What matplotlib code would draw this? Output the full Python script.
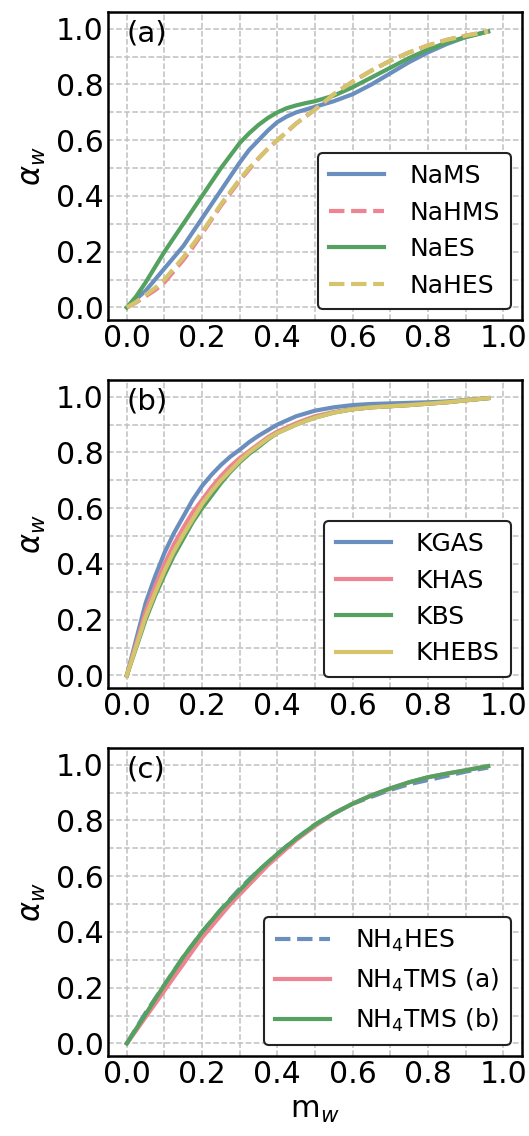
import numpy as np
import matplotlib as mpl
import matplotlib.pyplot as plt
from matplotlib.ticker import MultipleLocator

# water mass fraction (shared x values)
m_w = [0.0, 0.025, 0.05, 0.075, 0.1, 0.125, 0.15, 0.175, 0.2, 0.225, 0.25,
       0.275, 0.3, 0.325, 0.35, 0.375, 0.4, 0.425, 0.45, 0.475, 0.5,
       0.55, 0.6, 0.65, 0.7, 0.75, 0.8, 0.85, 0.9, 0.96]

# panel (a)
naMS = [0, 0.03, 0.06, 0.10, 0.14, 0.18, 0.22, 0.27, 0.32, 0.37, 0.42,
        0.47, 0.52, 0.565, 0.60, 0.635, 0.665, 0.685, 0.70, 0.71, 0.72,
        0.74, 0.765, 0.80, 0.84, 0.88, 0.915, 0.945, 0.97, 0.99]
naHMS = [0, 0.018, 0.04, 0.062, 0.09, 0.13, 0.17, 0.215, 0.265, 0.315, 0.365,
         0.41, 0.455, 0.495, 0.535, 0.57, 0.60, 0.63, 0.66, 0.685, 0.71,
         0.765, 0.81, 0.85, 0.885, 0.915, 0.94, 0.96, 0.975, 0.99]
naES = [0, 0.04, 0.09, 0.145, 0.20, 0.25, 0.30, 0.35, 0.40, 0.45, 0.50,
        0.545, 0.59, 0.625, 0.655, 0.68, 0.70, 0.715, 0.725, 0.733, 0.74,
        0.76, 0.79, 0.825, 0.86, 0.895, 0.925, 0.95, 0.97, 0.99]
naHES = [0, 0.02, 0.045, 0.07, 0.10, 0.14, 0.18, 0.225, 0.27, 0.32, 0.37,
         0.415, 0.46, 0.50, 0.535, 0.57, 0.60, 0.63, 0.66, 0.685, 0.71,
         0.765, 0.81, 0.85, 0.885, 0.915, 0.94, 0.96, 0.975, 0.99]

# panel (b)
kGAS = [0, 0.13, 0.26, 0.355, 0.44, 0.51, 0.57, 0.63, 0.68, 0.72, 0.755,
        0.785, 0.81, 0.837, 0.86, 0.88, 0.90, 0.915, 0.93, 0.94, 0.95,
        0.962, 0.97, 0.974, 0.976, 0.978, 0.98, 0.983, 0.988, 0.995]
kHAS = [0, 0.115, 0.23, 0.32, 0.40, 0.47, 0.53, 0.585, 0.63, 0.675, 0.715,
        0.75, 0.78, 0.805, 0.83, 0.855, 0.875, 0.89, 0.905, 0.918, 0.93,
        0.945, 0.955, 0.962, 0.966, 0.97, 0.975, 0.98, 0.987, 0.995]
kBS = [0, 0.10, 0.20, 0.285, 0.36, 0.43, 0.49, 0.55, 0.60, 0.645, 0.69,
       0.73, 0.765, 0.795, 0.82, 0.847, 0.87, 0.885, 0.90, 0.913, 0.925,
       0.943, 0.955, 0.962, 0.966, 0.97, 0.975, 0.98, 0.987, 0.995]
kHEBS = [0, 0.105, 0.21, 0.295, 0.375, 0.445, 0.505, 0.56, 0.615, 0.66, 0.70,
         0.735, 0.77, 0.80, 0.825, 0.85, 0.87, 0.885, 0.90, 0.913, 0.925,
         0.943, 0.955, 0.962, 0.966, 0.97, 0.975, 0.98, 0.987, 0.995]

# panel (c)
nh4HES = [0, 0.055, 0.11, 0.16, 0.21, 0.26, 0.31, 0.355, 0.40, 0.44, 0.48,
          0.518, 0.555, 0.588, 0.62, 0.65, 0.68, 0.708, 0.735, 0.76, 0.785,
          0.825, 0.86, 0.885, 0.91, 0.93, 0.945, 0.96, 0.975, 0.99]
nh4TMS_a = [0, 0.047, 0.095, 0.142, 0.19, 0.238, 0.285, 0.333, 0.38, 0.42, 0.46,
            0.50, 0.535, 0.57, 0.605, 0.64, 0.67, 0.70, 0.73, 0.755, 0.78,
            0.825, 0.86, 0.89, 0.915, 0.937, 0.955, 0.968, 0.98, 0.995]
nh4TMS_b = [0, 0.053, 0.105, 0.158, 0.21, 0.26, 0.31, 0.355, 0.40, 0.44, 0.48,
            0.515, 0.55, 0.585, 0.62, 0.65, 0.68, 0.708, 0.735, 0.76, 0.785,
            0.825, 0.86, 0.89, 0.915, 0.937, 0.955, 0.968, 0.98, 0.995]

blue = '#6a8fbe'
pink = '#ee8391'
green = '#55a160'
yellow = '#d5c46c'

mpl.rcParams['font.family'] = 'DejaVu Sans'
fig = plt.figure(figsize=(5.29, 11.36), dpi=100)

panels = [
    ('(a)', [(naMS, 'NaMS', blue, '-'), (naHMS, 'NaHMS', pink, '--'),
             (naES, 'NaES', green, '-'), (naHES, 'NaHES', yellow, '--')]),
    ('(b)', [(kGAS, 'KGAS', blue, '-'), (kHAS, 'KHAS', pink, '-'),
             (kBS, 'KBS', green, '-'), (kHEBS, 'KHEBS', yellow, '-')]),
    ('(c)', [(nh4HES, 'NH$_4$HES', blue, '--'), (nh4TMS_a, 'NH$_4$TMS (a)', pink, '-'),
             (nh4TMS_b, 'NH$_4$TMS (b)', green, '-')]),
]
tops = [12, 380, 748]

for (tag, series), top in zip(panels, tops):
    ax = fig.add_axes([108/529, 1 - (top + 308)/1136, 414/529, 308/1136])
    for y, lab, c, ls in series:
        ax.plot(m_w, y, color=c, ls=ls, lw=3, label=lab)
    ax.set_xlim(-0.05, 1.05)
    ax.set_ylim(-0.045, 1.06)
    ax.xaxis.set_major_locator(MultipleLocator(0.2))
    ax.yaxis.set_major_locator(MultipleLocator(0.2))
    ax.xaxis.set_minor_locator(MultipleLocator(0.1))
    ax.yaxis.set_minor_locator(MultipleLocator(0.1))
    ax.grid(which='both', ls='--', color='#c0c0c0', lw=1.1)
    ax.set_axisbelow(True)
    ax.tick_params(which='both', length=0, labelsize=21.5, pad=3)
    for s in ax.spines.values():
        s.set_linewidth(1.8)
        s.set_color('black')
    ax.set_ylabel(r'$\alpha_w$', fontsize=22, labelpad=6)
    ax.text(0.045, 0.975, tag, transform=ax.transAxes, fontsize=21, va='top')
    leg = ax.legend(loc='lower right', fontsize=18, frameon=True, fancybox=True,
                    framealpha=1, handlelength=2.2, borderpad=0.45, labelspacing=0.5,
                    handletextpad=1.0, borderaxespad=0.45)
    leg.get_frame().set_edgecolor('#222222')
    leg.get_frame().set_linewidth(1.5)

ax.set_xlabel('m$_w$', fontsize=22, labelpad=5)

plt.savefig('out.png', dpi=100)
